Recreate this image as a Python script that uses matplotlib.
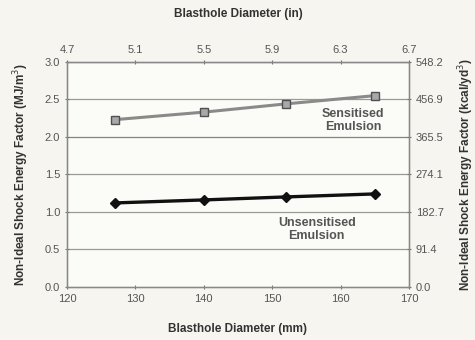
import numpy as np
import matplotlib.pyplot as plt

plt.rcParams['font.family'] = ['Liberation Sans', 'DejaVu Sans']

# blasthole diameters (mm) and energy factors (MJ/m3)
diam_mm = [127, 140, 152, 165]
sensitised = [2.23, 2.33, 2.44, 2.55]
unsensitised = [1.12, 1.16, 1.20, 1.24]

in_ticks = [4.7, 5.1, 5.5, 5.9, 6.3, 6.7]
kcal_ticks = ['0.0', '91.4', '182.7', '274.1', '365.5', '456.9', '548.2']

fig = plt.figure(figsize=(4.75, 3.4), dpi=100, facecolor='#f6f5ef')
ax = fig.add_axes([0.141, 0.156, 0.72, 0.662])
ax.set_facecolor('#fbfbf8')

for y in np.arange(0.5, 3.01, 0.5):
    c = '#7f8a6a' if y == 2.0 else '#9a9a96'
    ax.axhline(y, color=c, lw=0.9, zorder=1)

ax.plot(diam_mm, sensitised, color='#8a8a8a', lw=2.2, marker='s', ms=6,
        mfc='#a8a8a8', mec='#505050', mew=1, zorder=3)
ax.plot(diam_mm, unsensitised, color='#111111', lw=2.4, marker='D', ms=5,
        mfc='#111111', mec='#111111', zorder=3)

ax.text(161.8, 2.22, 'Sensitised\nEmulsion', ha='center', va='center',
        fontsize=9, fontweight='bold', color='#555555', linespacing=1.1)
ax.text(156.5, 0.76, 'Unsensitised\nEmulsion', ha='center', va='center',
        fontsize=9, fontweight='bold', color='#555555', linespacing=1.1)

ax.set_xlim(120, 170)
ax.set_ylim(0, 3.0)
ax.set_xticks(np.arange(120, 171, 10))
ax.set_yticks(np.arange(0, 3.01, 0.5))
ax.set_yticklabels([f'{v:.1f}' for v in np.arange(0, 3.01, 0.5)])
ax.tick_params(labelsize=8, labelcolor='#555555', color='#777777',
               length=3, direction='inout')
ax.set_xlabel('Blasthole Diameter (mm)', fontsize=8.5, fontweight='bold',
              color='#333333', labelpad=14)
ax.set_ylabel('Non-Ideal Shock Energy Factor (MJ/m$^3$)', fontsize=8.5,
              fontweight='bold', color='#333333', labelpad=10)

for s in ax.spines.values():
    s.set_color('#888888')
    s.set_linewidth(1)

top = ax.twiny()
top.set_xlim(4.7, 6.7)
top.set_xticks(in_ticks)
top.set_xticklabels([f'{v:.1f}' for v in in_ticks])
top.tick_params(labelsize=8, labelcolor='#555555', color='#777777',
                length=3, direction='inout')
top.set_xlabel('Blasthole Diameter (in)', fontsize=8.5, fontweight='bold',
               color='#333333', labelpad=20)

right = ax.twinx()
right.set_ylim(0, 548.2)
right.set_yticks([float(t) for t in kcal_ticks])
right.set_yticklabels(kcal_ticks)
right.tick_params(labelsize=8, labelcolor='#555555', color='#777777',
                  length=3, direction='inout')
right.set_ylabel('Non-Ideal Shock Energy Factor (kcal/yd$^3$)', fontsize=8.5,
                 fontweight='bold', color='#333333', labelpad=9)

for a in (top, right):
    for s in a.spines.values():
        s.set_color('#888888')

fig.savefig('out.png', dpi=100, facecolor=fig.get_facecolor())
